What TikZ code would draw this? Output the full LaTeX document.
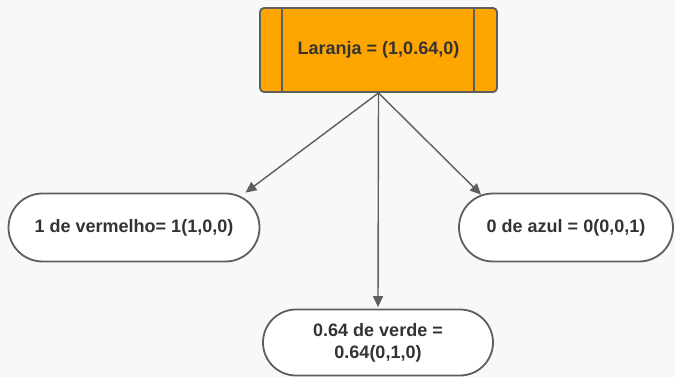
\documentclass[tikz,border=0pt]{standalone}
\usepackage{fontspec}
\setmainfont{Liberation Sans}
\usetikzlibrary{shapes.misc,calc,arrows.meta}
\definecolor{bgc}{RGB}{248,248,248}
\definecolor{linec}{RGB}{94,94,94}
\definecolor{orangec}{RGB}{255,165,0}
\definecolor{textc}{RGB}{51,51,51}
\tikzset{
  lbl/.style={font=\fontsize{18}{22}\selectfont\bfseries, text=textc, align=center},
  pill/.style={rounded rectangle, draw=linec, line width=1.8pt, fill=white, inner sep=0pt, lbl},
  conn/.style={draw=linec, line width=1.4pt, -{Triangle[length=11pt,width=10pt]}}
}
\begin{document}
\begin{tikzpicture}[x=1pt,y=-1pt]
\useasboundingbox (0,0) rectangle (675,377);
\fill[bgc] (0,0) rectangle (675,377);
\node[draw=linec, line width=1.8pt, fill=orangec, rounded corners=4pt, minimum width=237pt, minimum height=84pt, inner sep=0pt, lbl] (top) at (378.5,50) {Laranja = (1,0.64,0)};
\draw[linec, line width=1.8pt] ($(top.north west)+(23,0)$) -- ($(top.south west)+(23,0)$);
\draw[linec, line width=1.8pt] ($(top.north east)+(-24,0)$) -- ($(top.south east)+(-24,0)$);
\node[pill, minimum width=251pt, minimum height=68pt] (left) at (134,227.5) {1 de vermelho= 1(1,0,0)};
\node[pill, minimum width=214pt, minimum height=68pt] (right) at (566,227.5) {0 de azul = 0(0,0,1)};
\node[pill, minimum width=230pt, minimum height=66pt] (bottom) at (378,342.5) {0.64 de verde =\\0.64(0,1,0)};
\draw[conn] (top.south) -- ($(left.north east)+(20,0)$);
\draw[conn] (top.south) -- ($(bottom.north)+(0,-1.5)$);
\draw[conn] (top.south) -- ($(right.north west)+(-12,2)$);
\end{tikzpicture}
\end{document}
